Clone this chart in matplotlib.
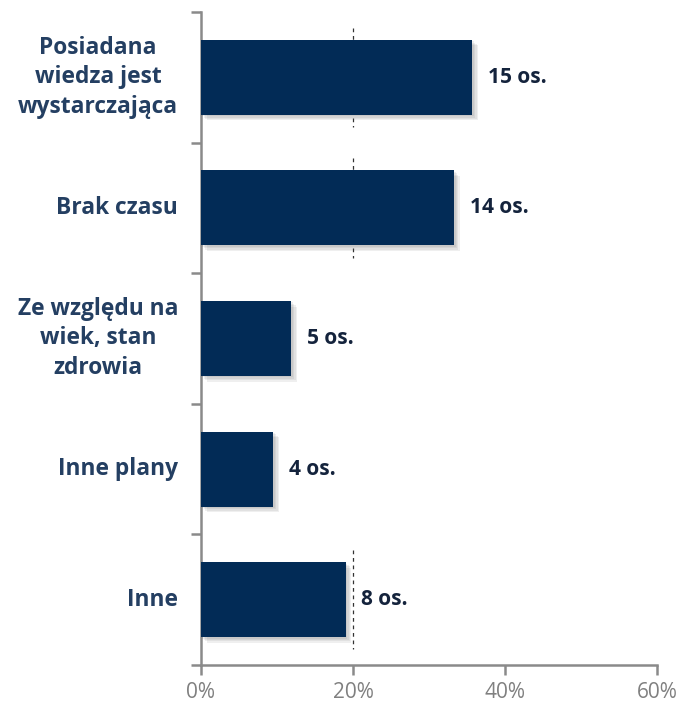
import matplotlib.pyplot as plt
import matplotlib.patheffects as pe

categories = [
    "Posiadana\nwiedza jest\nwystarczająca",
    "Brak czasu",
    "Ze względu na\nwiek, stan\nzdrowia",
    "Inne plany",
    "Inne",
]
counts = [15, 14, 5, 4, 8]
total = 42
shares = [100 * c / total for c in counts]
value_labels = [f"{c} os." for c in counts]
x_ticks = [0, 20, 40, 60]

bar_color = "#022B56"
axis_color = "#8A8A8A"
label_color = "#243F62"
value_color = "#14233C"
font = "Open Sans"

fig = plt.figure(figsize=(6.82, 7.06), dpi=100)
ax = fig.add_axes([0.2947, 0.0581, 0.6686, 0.9249])

n = len(categories)
ys = list(range(n))

bars = ax.barh(ys, shares, height=0.575, color=bar_color, zorder=3)
# soft drop shadow built from a few faint offset copies
shadow = [pe.SimplePatchShadow(offset=(k, -k), shadow_rgbFace="#555555", alpha=0.09)
          for k in (1, 2, 3, 4)]
for b in bars:
    b.set_path_effects(shadow + [pe.Normal()])

# thin dashed guide at 20% around the longer bars
for y, s in zip(ys, shares):
    if s > 18:
        ax.plot([20, 20], [y - 0.38, y + 0.38], color="#333333", lw=0.9,
                ls=(0, (3, 3)), zorder=2)

for y, s, t in zip(ys, shares, value_labels):
    ax.annotate(t, (s, y), xytext=(11, 0), textcoords="offset points",
                ha="left", va="center", fontsize=15, fontweight="bold",
                color=value_color, family=font)

ax.set_xlim(0, 60)
ax.set_ylim(n - 0.5, -0.5)

ax.set_xticks(x_ticks)
ax.set_xticklabels([f"{v}%" for v in x_ticks], fontsize=15, color="#808080",
                   family=font)
ax.tick_params(axis="x", length=7, width=1.8, color=axis_color, pad=5)

# category boundaries as ticks, labels centred in each band
ax.set_yticks([i - 0.5 for i in range(n + 1)])
ax.set_yticklabels([])
ax.tick_params(axis="y", length=7, width=1.8, color=axis_color)
for y, c in zip(ys, categories):
    ax.text(-0.05, y, c, transform=ax.get_yaxis_transform(), ha="right",
            va="center", multialignment="center", fontsize=16.4,
            fontweight="bold", color=label_color, family=font,
            linespacing=1.3)

for side in ["top", "right"]:
    ax.spines[side].set_visible(False)
for side in ["left", "bottom"]:
    ax.spines[side].set_color(axis_color)
    ax.spines[side].set_linewidth(1.8)

fig.savefig("out.png", dpi=100, facecolor="white")
